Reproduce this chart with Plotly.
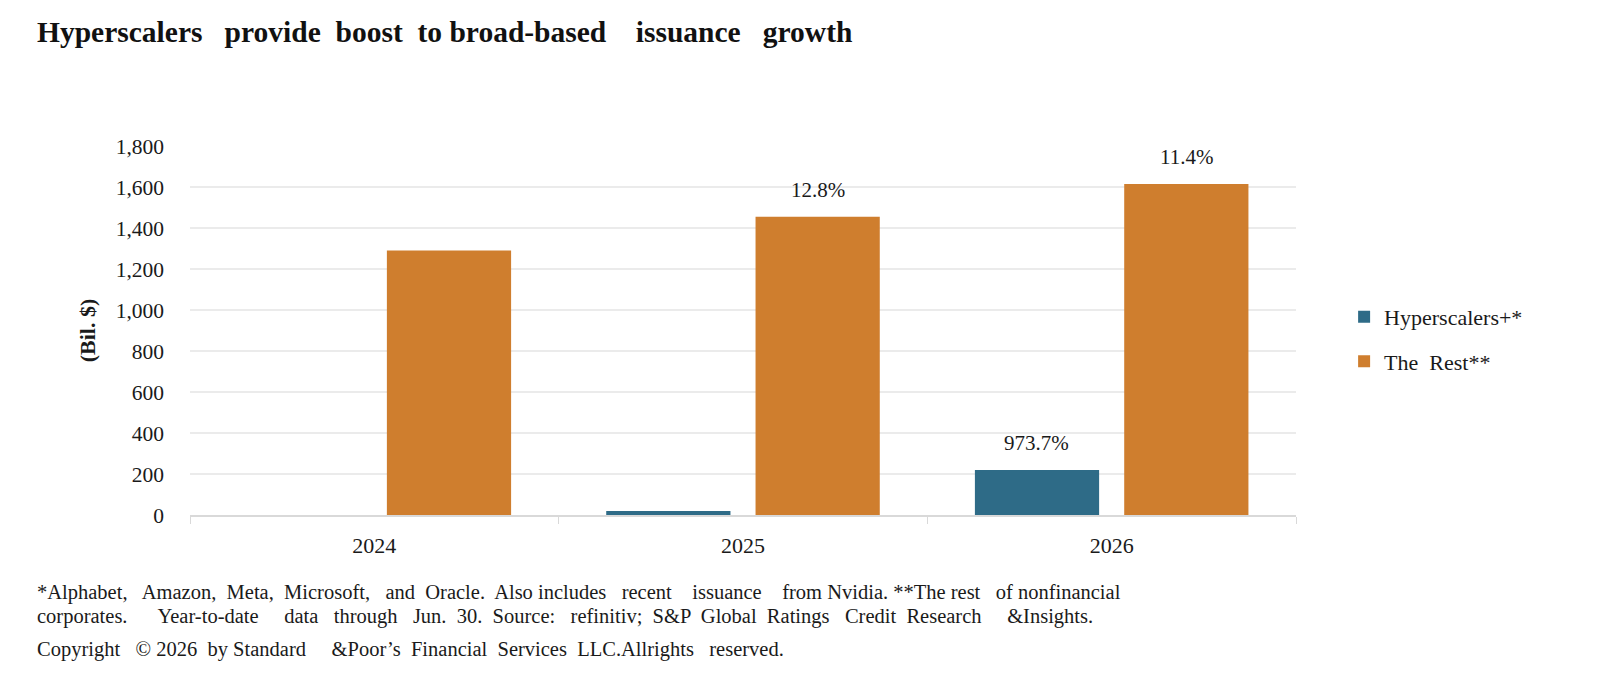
import plotly.graph_objects as go

# Data
years = ["2024", "2025", "2026"]
hyperscalers = [0, 20, 220]
the_rest = [1290, 1455, 1615]
hyper_labels = ["", "", "973.7%"]
rest_labels = ["", "12.8%", "11.4%"]

TEAL = "#2E6B87"
ORANGE = "#CF7E2E"
FONT = "Liberation Serif"
INK = "#1a1a1a"

fig = go.Figure()
fig.add_trace(go.Bar(
    x=years, y=hyperscalers, name="Hyperscalers+*",
    marker_color=TEAL, marker_line_width=0, legendgroup="h",
))
fig.add_trace(go.Bar(
    x=years, y=the_rest, name="The  Rest**",
    marker_color=ORANGE, marker_line_width=0, legendgroup="r",
))

# growth labels above the bars (x given as category index)
for series, labels, shift in [(hyperscalers, hyper_labels, -75), (the_rest, rest_labels, 75)]:
    for i, (val, lab) in enumerate(zip(series, labels)):
        if lab:
            fig.add_annotation(
                x=i, y=val, text=lab, showarrow=False,
                xshift=shift, yshift=27, yanchor="middle",
                font=dict(family=FONT, size=21, color=INK),
            )

fig.update_layout(
    width=1600, height=676,
    barmode="group", bargap=0.19, bargroupgap=0.168,
    paper_bgcolor="white", plot_bgcolor="white",
    font=dict(family=FONT, size=22, color=INK),
    margin=dict(l=182, r=312, t=138, b=169),
    title=dict(
        text="<b>Hyperscalers   provide  boost  to broad-based    issuance   growth</b>",
        x=29 / 1600, xanchor="left", y=0.965, yanchor="middle",
        font=dict(family=FONT, size=29.5, color="#111111"),
    ),
    legend=dict(
        x=1.0435, xanchor="left", y=0.476, yanchor="middle",
        traceorder="grouped", tracegroupgap=13,
        font=dict(family=FONT, size=22, color=INK),
        bgcolor="rgba(0,0,0,0)",
    ),
    showlegend=True,
)

fig.update_yaxes(
    range=[0, 1800], dtick=200, tickformat=",",
    showgrid=True, gridcolor="#ebebeb", gridwidth=1.5,
    zeroline=False, showline=False, ticks="", ticklabelstandoff=25,
    tickfont=dict(family=FONT, size=21.5, color=INK),
    title=dict(text="<b>(Bil. $)</b>", font=dict(family=FONT, size=22, color=INK), standoff=13),
)
fig.update_xaxes(
    type="category", range=[-0.5, 2.5],
    showline=True, linecolor="#d9d9d9", linewidth=1.5,
    ticks="outside", tickson="boundaries", ticklen=7, tickcolor="#d9d9d9",
    ticklabelstandoff=10,
    tickfont=dict(family=FONT, size=22, color=INK),
)

notes = [
    ("*Alphabet,   Amazon,  Meta,  Microsoft,   and  Oracle.  Also includes   recent    issuance    from Nvidia. **The rest   of nonfinancial", 584),
    ("corporates.      Year-to-date     data   through   Jun.  30.  Source:   refinitiv;  S&P  Global  Ratings   Credit  Research     &Insights.", 608),
    ("Copyright   © 2026  by Standard     &Poor’s  Financial  Services  LLC.Allrights   reserved.", 641),
]
for txt, ypx in notes:
    fig.add_annotation(
        text=txt, xref="paper", yref="paper",
        x=(27 - 182) / 1106, y=(507 - ypx) / 369,
        xanchor="left", yanchor="middle", showarrow=False,
        font=dict(family=FONT, size=20.5, color=INK),
    )

fig.write_html("out.html")
